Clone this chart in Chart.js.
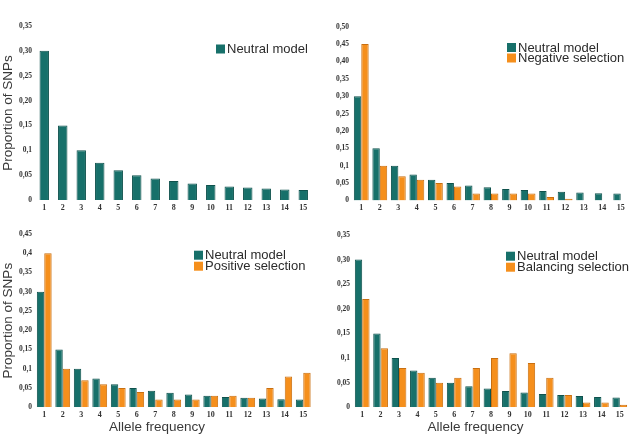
<!DOCTYPE html>
<html>
<head>
<meta charset="utf-8">
<script src="https://cdn.jsdelivr.net/npm/chart.js@4.4.1/dist/chart.umd.min.js"></script>
<style>
  body { margin: 0; background: #fff; }
  .panel { position: absolute; }
</style>
</head>
<body>
<canvas id="c1" class="panel" width="316" height="222" style="left:0;top:0"></canvas>
<canvas id="c2" class="panel" width="317" height="222" style="left:316px;top:0"></canvas>
<canvas id="c3" class="panel" width="316" height="223" style="left:0;top:222px"></canvas>
<canvas id="c4" class="panel" width="317" height="223" style="left:316px;top:222px"></canvas>
<script>
// data
var categories = ['1', '2', '3', '4', '5', '6', '7', '8', '9', '10', '11', '12', '13', '14', '15'];
var neutral   = [0.30, 0.15, 0.10, 0.075, 0.06, 0.05, 0.043, 0.038, 0.033, 0.03, 0.027, 0.025, 0.023, 0.021, 0.02];
var negative  = [0.45, 0.10, 0.07, 0.06, 0.05, 0.04, 0.02, 0.02, 0.02, 0.02, 0.01, 0.005, 0, 0, 0];
var positive  = [0.40, 0.10, 0.07, 0.06, 0.05, 0.04, 0.02, 0.02, 0.02, 0.03, 0.03, 0.025, 0.05, 0.08, 0.09];
var balancing = [0.22, 0.12, 0.08, 0.07, 0.05, 0.06, 0.08, 0.10, 0.11, 0.09, 0.06, 0.025, 0.01, 0.01, 0.005];

// tick labels, one per 0.05 step
var ticks035 = ['0', '0,05', '0,1', '0,15', '0,20', '0,25', '0,30', '0,35'];
var ticks045 = ['0', '0,05', '0,1', '0,15', '0,20', '0,25', '0,30', '0,35', '0,4', '0,45'];
var ticks050 = ['0', '0,05', '0,1', '0,15', '0,20', '0,25', '0,30', '0,35', '0,40', '0,45', '0,50'];

var TEAL = '#17706a';
var ORANGE = '#f58f1c';
var sans = '"Liberation Sans", Arial, sans-serif';
var serif = '"Liberation Serif", "Times New Roman", serif';

// legend + x title drawn inside the panel
var overlayText = {
  id: 'overlayText',
  afterDraw: function(chart, args, opts) {
    var ctx = chart.ctx;
    ctx.save();
    ctx.font = '13px ' + sans;
    ctx.textBaseline = 'middle';
    ctx.textAlign = 'left';
    chart.data.datasets.forEach(function(ds, i) {
      var y = opts.legendY + i * opts.rowH;
      ctx.fillStyle = ds.backgroundColor;
      ctx.fillRect(opts.legendX, y, 9, 9);
      ctx.fillStyle = '#2b2b2b';
      ctx.fillText(ds.label, opts.legendX + 11, y + 5);
    });
    if (opts.xTitle) {
      ctx.font = '13.5px ' + sans;
      ctx.fillStyle = '#3a3a3a';
      ctx.textAlign = 'center';
      ctx.fillText(opts.xTitle, opts.xTitleX, opts.xTitleY);
    }
    ctx.restore();
  }
};

function neutralSet() {
  return { label: 'Neutral model', data: neutral, backgroundColor: TEAL, borderColor: '#0f524d', borderWidth: 1 };
}

function otherSet(label, values) {
  return { label: label, data: values, backgroundColor: ORANGE, borderColor: '#c96f10', borderWidth: 1 };
}

function makeChart(id, datasets, yMax, yLabels, box, extra) {
  var ctx = document.getElementById(id).getContext('2d');
  return new Chart(ctx, {
    type: 'bar',
    data: { labels: categories, datasets: datasets },
    options: {
      responsive: false,
      animation: false,
      devicePixelRatio: 1,
      layout: { padding: { left: 0, top: box.top, right: box.right, bottom: 0 } },
      datasets: { bar: { categoryPercentage: box.cat, barPercentage: 1 } },
      scales: {
        x: {
          grid: { display: false, drawTicks: false },
          border: { display: false },
          ticks: { color: '#333', padding: 3, font: { family: serif, size: 8, weight: 'bold' }, maxRotation: 0, autoSkip: false },
          afterFit: function(scale) { scale.height = box.xh; }
        },
        y: {
          min: 0,
          max: yMax,
          grid: { display: false, drawTicks: false },
          border: { display: false },
          ticks: {
            stepSize: 0.05,
            color: '#333',
            padding: 3,
            font: { family: serif, size: 7.5, weight: 'bold' },
            callback: function(v) { return yLabels[Math.round(v / 0.05)]; }
          },
          title: {
            display: !!box.yTitle,
            text: 'Proportion of SNPs',
            color: '#3a3a3a',
            padding: 0,
            font: { family: sans, size: 13.5 }
          },
          afterFit: function(scale) { scale.width = box.left; }
        }
      },
      plugins: {
        legend: { display: false },
        tooltip: { enabled: false },
        overlayText: extra
      }
    },
    plugins: [overlayText]
  });
}

makeChart('c1', [neutralSet()], 0.35, ticks035,
  { top: 26, right: 3.5, left: 35, xh: 22, cat: 0.51, yTitle: true },
  { legendX: 216, legendY: 44.5, rowH: 11 });

makeChart('c2', [neutralSet(), otherSet('Negative selection', negative)], 0.5, ticks050,
  { top: 26.7, right: 3, left: 36, xh: 21.5, cat: 0.8, yTitle: false },
  { legendX: 191, legendY: 43, rowH: 10.5 });

makeChart('c3', [neutralSet(), otherSet('Positive selection', positive)], 0.45, ticks045,
  { top: 12, right: 3.5, left: 35, xh: 37.7, cat: 0.8, yTitle: true },
  { legendX: 194, legendY: 28.7, rowH: 11, xTitle: 'Allele frequency', xTitleX: 157, xTitleY: 205 });

makeChart('c4', [neutralSet(), otherSet('Balancing selection', balancing)], 0.35, ticks035,
  { top: 13, right: 4, left: 37, xh: 37.7, cat: 0.8, yTitle: false },
  { legendX: 190, legendY: 29.7, rowH: 11, xTitle: 'Allele frequency', xTitleX: 159.5, xTitleY: 205.3 });
</script>
</body>
</html>
